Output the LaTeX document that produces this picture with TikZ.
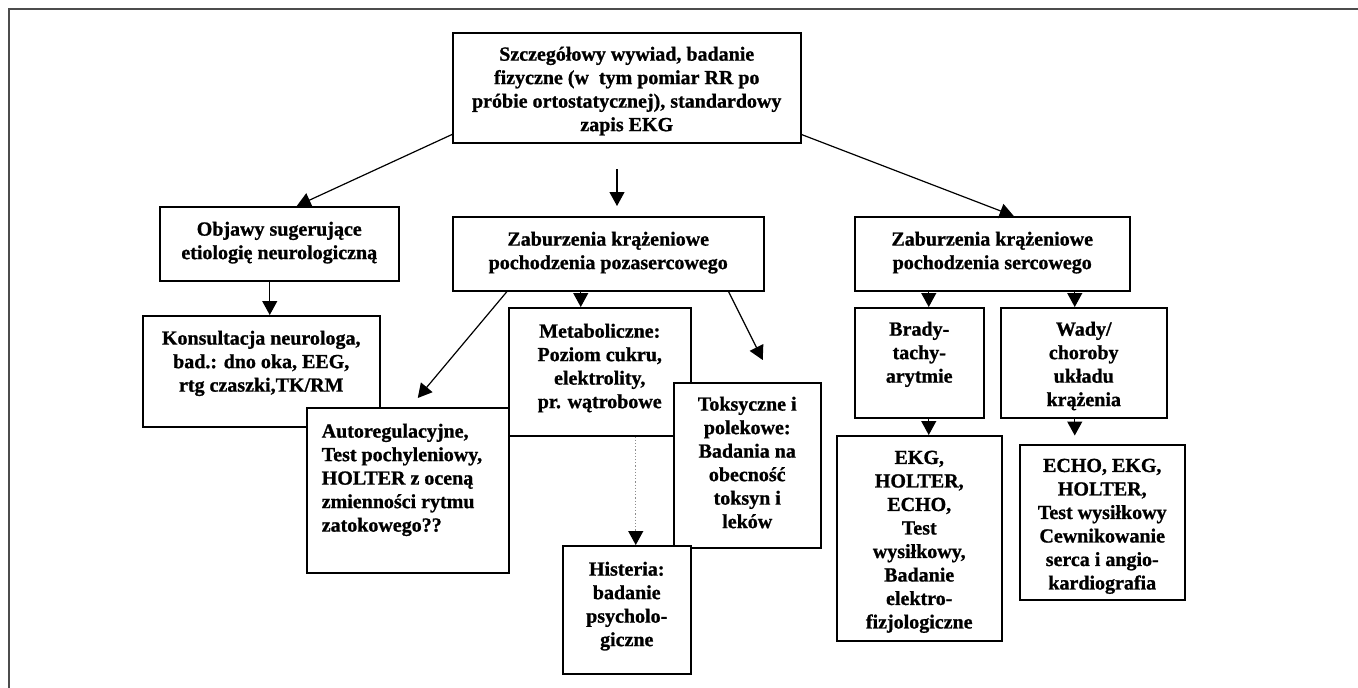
\documentclass[tikz,border=0pt]{standalone}
\usepackage{fontspec}
\setmainfont{Liberation Serif}[BoldFeatures={FakeBold=1}]
\usetikzlibrary{arrows.meta,calc}
\newcommand{\bxt}[4]{\parbox[c][#2][t]{#1}{\vspace*{#3}\centering #4\par}}
\begin{document}
\begin{tikzpicture}[x=1pt,y=-1pt,
  box/.style={draw, fill=white, line width=1.5pt, inner sep=0pt, anchor=north west,
    font=\fontsize{20}{23.5}\selectfont\bfseries},
  arr/.style={line width=1.2pt, -{Triangle[length=14pt,width=15pt]}},
  darr/.style={draw=black!45, line width=1.2pt, dotted, -{Triangle[length=14pt,width=15pt,color=black]}},
  frame/.style={draw=black!70, line width=1.8pt, line join=miter}]
\useasboundingbox (0,0) rectangle (1358,688);
\draw[frame] (9,688) -- (9,9) -- (1358,9);

\node[box] (top) at (452,32) {\bxt{348pt}{110pt}{14pt}{Szczegółowy wywiad, badanie\\ fizyczne (w\ \ tym pomiar RR po\\ próbie ortostatycznej), standardowy\\ zapis EKG}};
\node[box] (objawy) at (159,206) {\bxt{239pt}{74pt}{15pt}{Objawy sugerujące\\ etiologię neurologiczną}};
\node[box] (poza) at (452,216) {\bxt{311pt}{74pt}{15pt}{Zaburzenia krążeniowe\\ pochodzenia pozasercowego}};
\node[box] (serc) at (854,216) {\bxt{275pt}{74pt}{15pt}{Zaburzenia krążeniowe\\ pochodzenia sercowego}};
\node[box] (kons) at (142,315) {\bxt{237pt}{111pt}{15pt}{Konsultacja neurologa,\\ bad.: dno oka, EEG,\\ rtg czaszki,TK/RM}};
\node[box] (autoreg) at (306,407) {\bxt{202pt}{165pt}{16pt}{\raggedright\leftskip=15pt\relax Autoregulacyjne,\\ Test pochyleniowy,\\ HOLTER z oceną\\ zmienności rytmu\\ zatokowego??}};
\node[box] (metab) at (508,307) {\bxt{182pt}{128pt}{16pt}{Metaboliczne:\\ Poziom cukru,\\ elektrolity,\\ pr. wątrobowe}};
\node[box] (toks) at (673,382) {\bxt{147pt}{165pt}{14pt}{Toksyczne i\\ polekowe:\\ Badania na\\ obecność\\ toksyn i\\ leków}};
\node[box] (hist) at (562,545) {\bxt{128pt}{128pt}{16pt}{Histeria:\\ badanie\\ psycholo-\\ giczne}};
\node[box] (brady) at (854,307) {\bxt{129pt}{110pt}{14pt}{Brady-\\ tachy-\\ arytmie}};
\node[box] (wady) at (1000,307) {\bxt{166pt}{110pt}{14pt}{Wady/\\ choroby\\ układu\\ krążenia}};
\node[box] (ekg) at (836,435) {\bxt{165pt}{205pt}{15pt}{EKG,\\ HOLTER,\\ ECHO,\\ Test\\ wysiłkowy,\\ Badanie\\ elektro-\\ fizjologiczne}};
\node[box] (echo) at (1019,444) {\bxt{165pt}{155pt}{14pt}{ECHO, EKG,\\ HOLTER,\\ Test wysiłkowy\\ Cewnikowanie\\ serca i angio-\\ kardiografia}};

\coordinate (m1) at (617,169);
\coordinate (m2) at (617,206);
\draw[arr] ($(top.south west)+(0,-9)$) -- ($(objawy.north)+(17.5,0)$);
\draw[arr] (m1) -- (m2);
\draw[arr] ($(top.south east)+(0,-9)$) -- ($(serc.north)+(21.5,0)$);
\draw[arr] ($(objawy.south)+(-9.5,0)$) -- ($(objawy.south |- kons.north)+(-9.5,0)$);
\draw[arr] ($(poza.south west)+(55,0)$) -- ($(autoreg.north)+(10,-9)$);
\draw[arr] ($(poza.south)+(-27.5,0)$) -- ($(poza.south |- metab.north)+(-27.5,0)$);
\draw[arr] ($(poza.south east)+(-36,0)$) -- ($(toks.north)+(15.5,-22)$);
\draw[darr] ($(metab.south)+(36,0)$) -- ($(metab.south |- hist.north)+(36,0)$);
\draw[arr] ($(serc.south)+(-63.5,0)$) -- ($(serc.south |- brady.north)+(-63.5,0)$);
\draw[arr] ($(serc.south)+(82.5,0)$) -- ($(serc.south |- wady.north)+(82.5,0)$);
\draw[arr] ($(brady.south)+(9.5,0)$) -- ($(brady.south |- ekg.north)+(9.5,0)$);
\draw[arr] ($(wady.south)+(-9,0)$) -- ($(wady.south)+(-9,17)$);
\end{tikzpicture}
\end{document}
